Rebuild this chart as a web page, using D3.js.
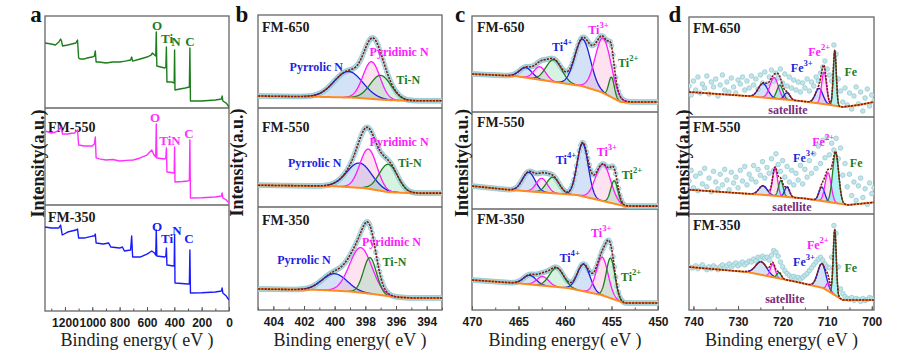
<!DOCTYPE html>
<html><head><meta charset="utf-8">
<script src="https://cdn.jsdelivr.net/npm/d3@7"></script>
<style>html,body{margin:0;padding:0;background:#fff}svg{display:block}
.serif{font-family:"Liberation Serif","Times New Roman",serif}
.sans{font-family:"Liberation Sans",Arial,sans-serif}</style>
</head><body>
<svg id="fig" width="911" height="360"></svg>
<script>
// ======================= DATA =======================
const sampleNames = ['FM-650', 'FM-550', 'FM-350'];

// (a) survey spectra: [binding energy eV, intensity a.u.]
const survey650 = [[1346,70.7],[1300,69.6],[1270,68.5],[1245,71.7],[1232,75],[1225,72.8],[1218,67.4],[1180,68.5],[1150,69.6],[1120,70.7],[1108,73.9],[1100,54.3],[1090,53.3],[1060,53.3],[1040,54.3],[1000,55.4],[985,56.5],[978,62],[972,50],[950,50],[900,48.9],[850,50],[800,50],[760,51],[720,52.2],[712,55.4],[705,51],[650,53.3],[600,55.4],[570,57.6],[560,59.8],[545,57.6],[536,56.5],[532,82.6],[528,45.7],[500,44.6],[470,43.5],[462,44.6],[458,66.3],[454,28.3],[420,28.3],[405,27.2],[401,28.3],[398,63],[395,19.6],[360,20.7],[320,21.7],[290,22.8],[286,65.2],[282,7.6],[200,7.6],[100,8.7],[55,9.8],[50,13],[45,7.6],[20,5.4],[0,1.1]];
const survey550 = [[1346,76.3],[1300,74.2],[1270,75],[1245,77.3],[1232,80.4],[1225,78],[1218,73.2],[1180,73.2],[1150,74],[1130,74.2],[1108,77.3],[1100,61.9],[1060,60.8],[1000,60.8],[985,62.9],[978,70.1],[972,48.5],[950,47.5],[900,46.4],[850,46.9],[800,45.4],[750,46],[700,46.4],[650,48.5],[600,51.5],[565,56.7],[548,51.5],[536,49.5],[532,83.5],[528,48.5],[470,47.4],[462,48.5],[458,58.8],[454,34],[420,33.5],[405,33],[401,33.5],[398,59.8],[395,23.7],[340,24.2],[300,24.7],[290,25.8],[286,67],[282,7.2],[200,7.4],[100,8.2],[55,9.3],[50,12.4],[45,7.2],[20,5.2],[0,2.1]];
const survey350 = [[1346,79.2],[1300,78.3],[1245,78.3],[1232,81.1],[1220,71.7],[1180,74.5],[1120,76.4],[1108,77.3],[1100,68.8],[1060,68.8],[1000,70.7],[985,70.7],[978,72.6],[972,64.1],[920,63.2],[880,64.1],[865,60.4],[800,59.4],[780,60.4],[765,56.6],[720,57.5],[712,70.7],[705,50.9],[650,50.9],[600,53.7],[565,56.6],[545,54.7],[536,52.8],[532,76.4],[528,51.9],[470,50.9],[462,51.9],[458,59.4],[454,43.4],[405,42.4],[401,43],[398,71.7],[395,26.4],[300,25.5],[290,25.5],[286,57.5],[282,17],[200,17.2],[100,17.9],[55,18.9],[50,21.7],[45,17],[20,14.1],[0,10.4]];
// element labels: [text, eV, intensity]
const surveyLabels650 = [['O',527,90],['Ti',453,76],['N',388,72],['C',285,72]];
const surveyLabels550 = [['O',541,89.7],['TiN',432,66],['C',293,74]];
const surveyLabels350 = [['O',527,80],['Ti',453,68],['N',380,76],['C',293,68]];

// (b) N 1s fits: peaks [centre eV, height, FWHM eV]; background knots [eV, intensity]
const nSpecies = ['Pyrrolic N', 'Pyridinic N', 'Ti-N'];
const nPeaks650 = [[399.1,28,2.2],[397.6,40,1.3],[397.0,26,1.6]];
const nPeaks550 = [[398.4,25,1.9],[397.8,40,1.3],[396.5,28,1.4]];
const nPeaks350 = [[400.0,16.5,1.9],[398.3,43.7,1.7],[397.7,35,1.0]];
const nBg650 = [[405,12.9],[401,12],[398.7,11.1],[396.6,8.6],[395.3,7.8],[393,7.8]];
const nBg550 = [[405,22],[400,21],[398,19],[396.5,15],[395,14],[393,14]];
const nBg350 = [[405,20.4],[401,19.5],[399,18],[397.5,15.5],[396,12.5],[395,11.7],[393,11.7]];
const nLabels650 = [[401.2,44],[395.8,60],[395.2,30]];
const nLabels550 = [[401.3,44.4],[395.8,65.7],[395.1,44.4]];
const nLabels350 = [[402.0,48.6],[396.3,66],[396.1,46.6]];

// (c) Ti 2p fits
const tiSpecies = ['Ti4+','Ti3+','Ti2+','Ti4+','Ti3+','Ti2+'];
const tiPeaks650 = [[464.2,10.4,1.6],[462.7,13.5,1.5],[461.2,23,2.0],[458.1,49,2.0],[455.9,57,2.0],[455.0,21,0.7]];
const tiPeaks550 = [[463.9,19.6,1.6],[462.5,14.4,1.4],[461.3,16.5,1.6],[458.1,54.6,1.4],[455.9,38,1.9],[454.7,23.7,0.9]];
const tiPeaks350 = [[463.8,9,1.6],[462.4,9,1.5],[460.9,18.8,1.8],[458.0,26.7,1.6],[456.0,37.6,1.5],[455.1,39.6,1.1]];
const tiBg650 = [[470,39.6],[465.4,37.5],[458.2,27.1],[456.1,20.8],[454.0,10.4],[450,10.4]];
const tiBg550 = [[470,23.7],[465.8,19.6],[458.7,14.4],[453.6,3],[450,3]];
const tiBg350 = [[470,29.7],[465.4,26.7],[459.7,21.8],[456.1,14.9],[453.6,6.9],[450,6.9]];
const tiLabelNames = ['Ti4+','Ti3+','Ti2+'];
const tiLabels650 = [[460.3,67.7],[456.4,85.4],[453.2,51]];
const tiLabels550 = [[459.9,50.5],[455.5,58.8],[452.8,35]];
const tiLabels350 = [[459.5,51.5],[456.1,76],[452.9,32.7]];

// (d) Fe 2p fits
const feSpecies650 = ['Fe3+','Fe2+','Fe','Fe3+','Fe3+','Fe2+','Fe'];
const fePeaks650 = [[724.4,14,2.5],[721.9,21,2.2],[720.6,14,1.6],[719.0,7,1.5],[711.8,15,2.0],[710.7,32,1.3],[708.3,55,0.8]];
const feSpecies550 = ['Fe3+','Fe2+','Fe','Fe3+','Fe3+','Fe2+','Fe'];
const fePeaks550 = [[724.4,9.3,2.2],[721.7,29,1.3],[720.4,16.5,1.2],[719.0,10.3,1.3],[711.2,14.4,1.5],[709.8,30,1.6],[708.1,52,1.6]];
const feSpecies350 = ['Fe3+','Fe2+','Fe','Fe3+','Fe2+','Fe'];
const fePeaks350 = [[724.8,13.5,3.0],[722.2,13.5,1.3],[720.8,6,1.2],[711.2,25,2.2],[709.8,8.3,1.0],[708.3,67.7,0.8]];
const feBg650 = [[741,25],[728,21],[716,16],[710,12.5],[706.5,10],[703,12],[699.5,15]];
const feBg550 = [[741,25],[725,20],[715,16],[705.3,9.3],[699.5,12]];
const feBg350 = [[741,44.8],[728,39.6],[716.8,29.2],[710.9,22.9],[706.5,10.4],[699.5,10.4]];
// measured Fe 2p counts, 741 -> 699.5 eV in 0.5 eV steps (84 points)
const feData650 = [31,22,36,27,40,24,33,29,41,23, 35,30,38,21,32,42,27,35,25,39, 30,24,37,33,40,27,36,29,41,32, 38,28,42,34,45,33,40,47,36,44, 39,48,34,43,31,40,29,37,27,35, 25,34,29,38,26,35,31,40,36,44, 50,56,48,42,36,72,63,38,26,15, 29,12,24,8,21,30,13,25,6,19, 28,11,22,16];
const feData550 = [34,45,27,39,24,42,31,47,28,37, 23,44,33,26,41,30,46,35,25,43, 32,38,27,45,34,49,30,41,36,50, 33,46,40,54,37,48,42,57,45,62, 51,44,55,38,49,33,45,30,42,35, 50,31,46,38,55,42,62,47,70,52, 76,58,80,61,73,66,78,57,68,40, 52,28,41,19,33,14,29,37,17,26, 10,32,21,27];
const feData350 = [45,44,44,46,43,45,47,44,42,45, 43,46,44,42,45,47,44,46,48,45, 47,49,46,48,50,47,49,51,50,53, 51,55,53,56,54,55,52,57,62,60, 56,50,45,41,38,36,34,35,33,34, 32,34,36,38,41,44,47,50,53,55, 52,48,45,44,55,88,80,45,22,17, 14,12,11,13,10,12,11,9,12,10, 11,13,12,11];
const feLabelNames = ['Fe2+','Fe3+','Fe','satellite'];
const feLabels650 = [[711.8,65],[715.7,49],[704.7,45],[718.8,7]];
const feLabels550 = [[710.9,74],[715.2,57.7],[703.5,52.6],[717.9,7.2]];
const feLabels350 = [[712.1,67.7],[715.2,50],[704.7,43.8],[719.5,11.5]];

// ======================= STYLE / LAYOUT =======================
const COL = {b:'#1f1fe0', m:'#ff1aff', g:'#1e7d1e', o:'#ff8a1f', env:'#7d1a1a', sat:'#7b2b7b'};
const FILL = {b:'rgba(110,160,230,0.30)', m:'rgba(255,150,200,0.28)', g:'rgba(120,215,160,0.30)', fe:'rgba(80,225,230,0.45)'};
const speciesKey = {'Pyrrolic N':'b','Pyridinic N':'m','Ti-N':'g','Ti4+':'b','Ti3+':'m','Ti2+':'g','Fe3+':'b','Fe2+':'m','Fe':'g','satellite':'sat'};
const surveyColors = ['#1d7d1d','#ff30ff','#1a1aff'];

const panels = {
  a:{x0:45,x1:229,rows:[16,108,205,311],dom:[1346,0],major:d3.range(1200,-1,-200),minor:d3.range(1300,-1,-100),letter:[36,22],ylab:38,nameX:48,nameY:[null,127,217]},
  b:{x0:258,x1:442,rows:[15,108,207,310],dom:[405,393],major:d3.range(404,393,-2),minor:d3.range(405,392.9,-1),letter:[242,22],ylab:237,nameX:262,nameY:[27,127,220]},
  c:{x0:472,x1:658,rows:[16,112,209,310],dom:[470,450],major:[470,465,460,455,450],minor:d3.range(470,449.9,-2.5),letter:[460,22],ylab:462,nameX:477,nameY:[27,122,219]},
  d:{x0:689,x1:874,rows:[17,117,214,310],dom:[741,699.5],major:[740,730,720,710,700],minor:d3.range(740,699,-5),letter:[675,22],ylab:683,nameX:693,nameY:[28,127,225]}
};

const svg = d3.select('#fig');
const defs = svg.append('defs');
let clipId = 0;

function gauss(x, p){ return p[1]*Math.exp(-4*Math.LN2*((x-p[0])/p[2])**2); }

function drawFrame(key){
  const P = panels[key];
  const g = svg.append('g');
  const x = d3.scaleLinear().domain(P.dom).range([P.x0, P.x1]);
  const yb = P.rows[3];
  const ax = g.append('g').attr('transform',`translate(0,${yb})`)
    .call(d3.axisBottom(x).tickValues(P.major).tickSize(-4).tickPadding(7).tickFormat(d3.format('d')));
  ax.attr('font-family',null).attr('font-size',null);
  ax.select('.domain').remove();
  ax.selectAll('text').attr('class','sans').attr('font-weight','bold').attr('font-size',12).attr('fill','#1a1a1a');
  ax.selectAll('line').attr('stroke','#555');
  const axm = g.append('g').attr('transform',`translate(0,${yb})`)
    .call(d3.axisBottom(x).tickValues(P.minor).tickSize(-2.5).tickFormat(''));
  axm.select('.domain').remove();
  axm.selectAll('line').attr('stroke','#555');
  g.append('rect').attr('x',P.x0).attr('y',P.rows[0]).attr('width',P.x1-P.x0).attr('height',P.rows[3]-P.rows[0])
    .attr('fill','none').attr('stroke','#666').attr('stroke-width',1.3);
  [1,2].forEach(i=>g.append('line').attr('x1',P.x0).attr('x2',P.x1).attr('y1',P.rows[i]).attr('y2',P.rows[i])
    .attr('stroke','#666').attr('stroke-width',1.3));
  g.append('text').attr('class','serif').attr('x',(P.x0+P.x1)/2).attr('y',346).attr('text-anchor','middle')
    .attr('font-size',18).attr('fill','#222').text('Binding energy( eV )');
  g.append('text').attr('class','serif').attr('transform',`translate(${P.ylab},${(P.rows[0]+P.rows[3])/2}) rotate(-90)`)
    .attr('text-anchor','middle').attr('dominant-baseline','central')
    .attr('font-weight','bold').attr('font-size',18).attr('fill','#1a1a1a').text('Intensity(a.u.)');
  g.append('text').attr('class','serif').attr('x',P.letter[0]).attr('y',P.letter[1]).attr('text-anchor','middle')
    .attr('font-weight','bold').attr('font-size',23).attr('fill','#111').text(key);
  sampleNames.forEach((n,i)=>{
    if(P.nameY[i]==null) return;
    g.append('text').attr('class','serif').attr('x',P.nameX).attr('y',P.nameY[i]).attr('dominant-baseline','central')
      .attr('font-weight','bold').attr('font-size',14).attr('fill','#1a1a1a').text(n);
  });
  return {g, x};
}

function rowScale(P, i){ return d3.scaleLinear().domain([0,100]).range([P.rows[i+1], P.rows[i]]); }
function rowClip(P, i){
  const id = 'clip'+(clipId++);
  defs.append('clipPath').attr('id',id).append('rect').attr('x',P.x0).attr('y',P.rows[i])
    .attr('width',P.x1-P.x0).attr('height',P.rows[i+1]-P.rows[i]);
  return id;
}

function addLabel(g, X, Y, name, color, size){
  const t = g.append('text').attr('class','serif').attr('x',X).attr('y',Y).attr('text-anchor','middle').attr('dominant-baseline','central')
    .attr('font-weight','bold').attr('font-size',size).attr('fill',color);
  const m = name.match(/^(Ti|Fe)(\d\+)$/);
  if(m){
    t.append('tspan').text(m[1]);
    t.append('tspan').attr('dy',-size*0.42).attr('font-size',size*0.72).text(m[2]);
  } else t.text(name);
}

// ---------- panel a ----------
(function(){
  const P = panels.a; const {g, x} = drawFrame('a');
  [survey650, survey550, survey350].forEach((s,i)=>{
    const y = rowScale(P,i);
    const cg = g.append('g').attr('clip-path',`url(#${rowClip(P,i)})`);
    cg.append('path').datum(s).attr('fill','none').attr('stroke',surveyColors[i]).attr('stroke-width',1.4)
      .attr('stroke-linejoin','round')
      .attr('d', d3.line().x(d=>x(d[0])).y(d=>y(d[1])));
    const labs = [surveyLabels650, surveyLabels550, surveyLabels350][i];
    labs.forEach(l=>addLabel(g, x(l[1]), y(l[2]), l[0], surveyColors[i], 13));
  });
})();

// ---------- fitted panels ----------
function drawFitPanel(key, rows, step, circleStep, labelNames, labelSize){
  const P = panels[key]; const {g, x} = drawFrame(key);
  const lo = Math.min(...P.dom), hi = Math.max(...P.dom);
  const grid = d3.range(hi, lo-1e-9, -step);
  rows.forEach((r,i)=>{
    const y = rowScale(P,i);
    const cg = g.append('g').attr('clip-path',`url(#${rowClip(P,i)})`);
    const bgS = d3.scaleLinear().domain(r.bg.map(d=>d[0])).range(r.bg.map(d=>d[1])).clamp(true);
    const env = e => bgS(e) + d3.sum(r.peaks, p=>gauss(e,p));
    r.peaks.forEach((p,k)=>{
      const sp = speciesKey[r.species[k]];
      const pts = grid.filter(e=>gauss(e,p) > 0.15);
      const fill = (key==='d' && sp==='g') ? FILL.fe : FILL[sp];
      cg.append('path').datum(pts).attr('fill',fill).attr('stroke','none')
        .attr('d', d3.area().x(e=>x(e)).y0(e=>y(bgS(e))).y1(e=>y(bgS(e)+gauss(e,p))));
    });
    const data = r.data ? r.data : d3.range(hi, lo-1e-9, -circleStep).map(e=>[e, env(e)]);
    cg.append('g').selectAll('circle').data(data).join('circle')
      .attr('cx',d=>x(d[0])).attr('cy',d=>y(d[1])).attr('r', key==='d'?2.3:2.4)
      .attr('fill','#c3e5ea').attr('stroke','#8ec6ce').attr('stroke-width',0.7);
    r.peaks.forEach((p,k)=>{
      const sp = speciesKey[r.species[k]];
      const pts = grid.filter(e=>gauss(e,p) > 0.15);
      cg.append('path').datum(pts).attr('fill','none').attr('stroke',COL[sp]).attr('stroke-width',1.3)
        .attr('d', d3.line().x(e=>x(e)).y(e=>y(bgS(e)+gauss(e,p))));
    });
    cg.append('path').datum(grid).attr('fill','none').attr('stroke',COL.o).attr('stroke-width',2)
      .attr('d', d3.line().x(e=>x(e)).y(e=>y(bgS(e))));
    cg.append('path').datum(grid).attr('fill','none').attr('stroke',COL.env).attr('stroke-width',1.6)
      .attr('stroke-dasharray','2.2,1.1')
      .attr('d', d3.line().x(e=>x(e)).y(e=>y(env(e))));
    r.labels.forEach((l,k)=>{
      const nm = labelNames[k];
      addLabel(g, x(l[0]), y(l[1]), nm, COL[speciesKey[nm]], labelSize);
    });
  });
}

drawFitPanel('b', [
  {bg:nBg650, peaks:nPeaks650, species:nSpecies, labels:nLabels650},
  {bg:nBg550, peaks:nPeaks550, species:nSpecies, labels:nLabels550},
  {bg:nBg350, peaks:nPeaks350, species:nSpecies, labels:nLabels350}
], 0.02, 0.08, nSpecies, 12);

drawFitPanel('c', [
  {bg:tiBg650, peaks:tiPeaks650, species:tiSpecies, labels:tiLabels650},
  {bg:tiBg550, peaks:tiPeaks550, species:tiSpecies, labels:tiLabels550},
  {bg:tiBg350, peaks:tiPeaks350, species:tiSpecies, labels:tiLabels350}
], 0.03, 0.15, tiLabelNames, 12);

const feBE = d3.range(741, 699.4, -0.5);
const pair = arr => feBE.map((e,i)=>[e, arr[i]]).filter(d=>d[1]!=null);
drawFitPanel('d', [
  {bg:feBg650, peaks:fePeaks650, species:feSpecies650, labels:feLabels650, data:pair(feData650)},
  {bg:feBg550, peaks:fePeaks550, species:feSpecies550, labels:feLabels550, data:pair(feData550)},
  {bg:feBg350, peaks:fePeaks350, species:feSpecies350, labels:feLabels350, data:pair(feData350)}
], 0.03, 0.5, feLabelNames, 12);
</script>
</body></html>
